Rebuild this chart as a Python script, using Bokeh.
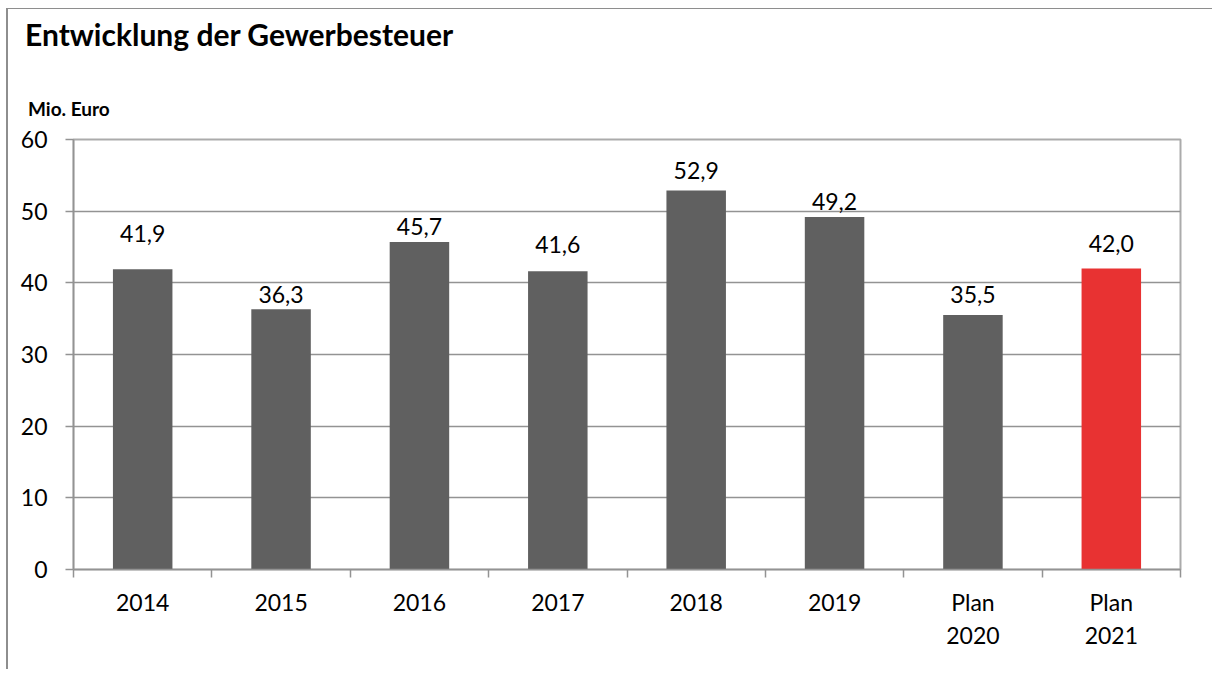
from bokeh.plotting import figure
from bokeh.models import ColumnDataSource, FixedTicker, Range1d, Div
from bokeh.layouts import column
from bokeh.core.properties import value
from bokeh.embed import file_html
from bokeh.resources import INLINE

# ---- data ----
categories = ["2014", "2015", "2016", "2017", "2018", "2019", "Plan\n2020", "Plan\n2021"]
values = [41.9, 36.3, 45.7, 41.6, 52.9, 49.2, 35.5, 42.0]
y_ticks = [0, 10, 20, 30, 40, 50, 60]
title_text = "Entwicklung der Gewerbesteuer"
unit_text = "Mio. Euro"

# ---- style ----
bar_colors = ["#606060"] * 7 + ["#E83232"]
label_lift = [36, 15, 15, 27, 20, 15, 21, 25]  # px above bar top (label placement)
FONT = "Lato"
GRID = "#939393"
W = 1200
HEAD_H = 105

xs = [i + 0.5 for i in range(len(categories))]
labels = [f"{v:.1f}".replace(".", ",") for v in values]

src = ColumnDataSource(dict(x=xs, top=values, color=bar_colors, label=labels,
                            yoff=[-d for d in label_lift]))

header = Div(width=W, height=HEAD_H, text=(
    '<div style="position:relative;width:%dpx;height:%dpx;">'
    '<span style="position:absolute;left:12px;top:2px;white-space:nowrap;'
    'font-family:Lato;font-weight:bold;font-size:30px;line-height:normal;color:#000;">%s</span>'
    '<span style="position:absolute;left:15px;top:83px;white-space:nowrap;'
    'font-family:Lato;font-weight:bold;font-size:19px;line-height:normal;color:#000;">%s</span>'
    '</div>') % (W, HEAD_H, title_text, unit_text))

p = figure(width=W, height=545, output_backend="svg", toolbar_location=None,
           x_range=Range1d(0, len(categories)), y_range=Range1d(0, 60), title=None)
p.min_border_left = 65
p.min_border_right = 28
p.min_border_top = 15
p.min_border_bottom = 100
p.background_fill_color = "white"
p.border_fill_color = "white"
p.outline_line_color = "#ababab"
p.outline_line_width = 2

p.vbar(x="x", top="top", bottom=0, width=0.43, fill_color="color", line_color=None, source=src)
p.text(x="x", y="top", text="label", y_offset="yoff", text_align="center",
       text_baseline="middle", text_font=value(FONT), text_font_size="23px",
       text_color="black", source=src)

# grid
p.xgrid.visible = False
p.ygrid.ticker = FixedTicker(ticks=y_ticks)
p.ygrid.grid_line_color = GRID
p.ygrid.grid_line_width = 1.5

# y axis
ya = p.yaxis[0]
ya.ticker = FixedTicker(ticks=y_ticks)
ya.major_tick_out = 8
ya.major_tick_in = 0
ya.minor_tick_out = 0
ya.minor_tick_in = 0
ya.axis_line_color = GRID
ya.axis_line_width = 1.5
ya.major_tick_line_color = GRID
ya.major_tick_line_width = 1.5
ya.major_label_text_font = FONT
ya.major_label_text_font_size = "23px"
ya.major_label_text_color = "black"
ya.major_label_standoff = 18

# x axis
xa = p.xaxis[0]
xa.ticker = FixedTicker(ticks=xs, minor_ticks=list(range(len(categories) + 1)))
xa.major_label_overrides = {x: c for x, c in zip(xs, categories)}
xa.major_tick_out = 0
xa.major_tick_in = 0
xa.minor_tick_out = 8
xa.minor_tick_in = 0
xa.minor_tick_line_color = GRID
xa.minor_tick_line_width = 1.5
xa.axis_line_color = GRID
xa.axis_line_width = 1.5
xa.major_label_text_font = FONT
xa.major_label_text_font_size = "23px"
xa.major_label_text_color = "black"
xa.major_label_text_line_height = 1.18
xa.major_label_standoff = 10

layout = column(header, p, spacing=0)
layout.styles = {"margin-left": "6px", "margin-top": "8px",
                 "border-left": "2px solid #8e8e8e", "border-top": "1px solid #8e8e8e",
                 "background-color": "white"}

open("out.html", "w").write(file_html(layout, INLINE))
